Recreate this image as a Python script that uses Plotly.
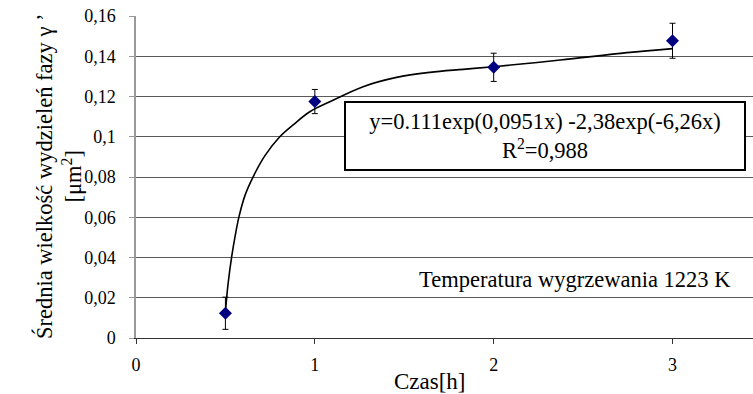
import plotly.graph_objects as go

# measured points
time_h = [0.5, 1, 2, 3]
size_um2 = [0.0123, 0.1175, 0.1345, 0.1477]
err_um2 = [0.008, 0.006, 0.007, 0.0087]

# fitted trend line
curve_x = [0.5, 0.505, 0.515, 0.535, 0.555, 0.576, 0.61, 0.655, 0.72, 0.804, 0.88,
           0.972, 1.084, 1.27, 1.457, 1.644, 1.83, 2.0, 2.372, 2.745, 3.0]
curve_y = [0.0123, 0.018, 0.027, 0.0404, 0.051, 0.0603, 0.071, 0.0801, 0.0905, 0.1000,
           0.106, 0.1124, 0.1174, 0.1249, 0.1295, 0.132, 0.1335, 0.1348, 0.1381,
           0.1418, 0.1438]

x_ticks = [0, 1, 2, 3]
x_tick_labels = ["0", "1", "2", "3"]
y_ticks = [0, 0.02, 0.04, 0.06, 0.08, 0.1, 0.12, 0.14, 0.16]
y_tick_labels = ["0", "0,02", "0,04", "0,06", "0,08", "0,1", "0,12", "0,14", "0,16"]

fit_text = "y=0.111exp(0,0951x) -2,38exp(-6,26x)<br>R<sup>2</sup>=0,988"
temp_text = "Temperatura wygrzewania 1223 K"
y_title = "Średnia wielkość wydzieleń fazy γ ’<br>[μm<sup>2</sup>]"
x_title = "Czas[h]"

FONT = "'Liberation Serif', 'Times New Roman', Tinos, 'DejaVu Serif', serif"

fig = go.Figure()
fig.add_trace(go.Scatter(
    x=curve_x, y=curve_y, mode="lines",
    line=dict(color="black", width=1.6, shape="spline", smoothing=1.0),
    hoverinfo="skip", showlegend=False))
fig.add_trace(go.Scatter(
    x=time_h, y=size_um2, mode="markers",
    marker=dict(symbol="diamond", size=10, color="#000080"),
    error_y=dict(type="data", array=err_um2, visible=True, color="black",
                 thickness=1, width=3),
    showlegend=False))

fig.update_layout(
    width=753, height=394,
    margin=dict(l=136, r=0, t=16, b=56),
    paper_bgcolor="white", plot_bgcolor="white",
    font=dict(family=FONT, size=18, color="black"),
    xaxis=dict(range=[0, 3.45], tickvals=x_ticks, ticktext=x_tick_labels,
               showgrid=False, zeroline=False, showline=True,
               linecolor="#333333", linewidth=1, ticks="outside", ticklen=5,
               tickcolor="#333333", ticklabelstandoff=5,
               tickfont=dict(size=18, family=FONT)),
    yaxis=dict(range=[0, 0.16], tickvals=y_ticks, ticktext=y_tick_labels,
               showgrid=True, gridcolor="#5a5a5a", gridwidth=1,
               zeroline=False, showline=True, linecolor="#999999", linewidth=1.5,
               ticks="outside", ticklen=5, tickcolor="#999999",
               ticklabelstandoff=10,
               tickfont=dict(size=18, family=FONT)),
    annotations=[
        dict(text=fit_text, x=2.285, y=0.1006, xref="x", yref="y",
             showarrow=False, align="center",
             font=dict(size=22.5, family=FONT, color="black"),
             bordercolor="black", borderwidth=2, borderpad=0,
             bgcolor="white", width=398, height=66),
        dict(text=temp_text, x=3.34, y=0.0289, xref="x", yref="y",
             showarrow=False, xanchor="right", yanchor="middle",
             font=dict(size=22.5, family=FONT, color="black")),
        dict(text=x_title, x=0.476, y=0, xref="paper", yref="paper",
             xanchor="center", yanchor="middle", yshift=-43, showarrow=False,
             font=dict(size=23, family=FONT, color="black")),
        dict(text=y_title, x=0, y=0.5, xref="paper", yref="paper",
             xanchor="center", yanchor="middle", xshift=-78, textangle=-90,
             showarrow=False, align="center",
             font=dict(size=22.5, family=FONT, color="black")),
    ],
)

fig.write_html("out.html")
